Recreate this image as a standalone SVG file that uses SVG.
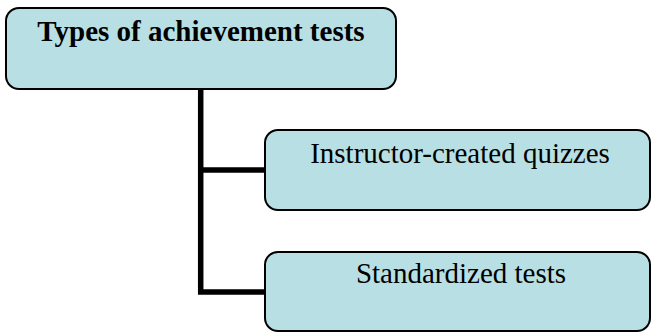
<svg xmlns="http://www.w3.org/2000/svg" width="652" height="333" viewBox="0 0 652 333">
<style>
.box{fill:#b8dfe3;stroke:#000;stroke-width:2}
.t{font-family:"Liberation Serif","Times New Roman",serif;font-size:29px;fill:#000;text-anchor:middle}
.b{font-weight:bold}
.c{fill:none;stroke:#000;stroke-width:5.5}
</style>
<rect width="652" height="333" fill="#fff"/>
<g id="connectors">
<path class="c" d="M200.7 89 V292 H265 M200.7 170 H265"/>
</g>
<g id="root">
<rect class="box" x="6" y="8" width="390" height="81" rx="13"/>
<text class="t b" x="201" y="41">Types of achievement tests</text>
</g>
<g id="quizzes">
<rect class="box" x="265" y="130" width="385" height="80" rx="13"/>
<text class="t" x="460" y="163">Instructor-created quizzes</text>
</g>
<g id="standardized">
<rect class="box" x="265" y="252" width="385" height="79" rx="13"/>
<text class="t" x="461" y="283">Standardized tests</text>
</g>
</svg>
